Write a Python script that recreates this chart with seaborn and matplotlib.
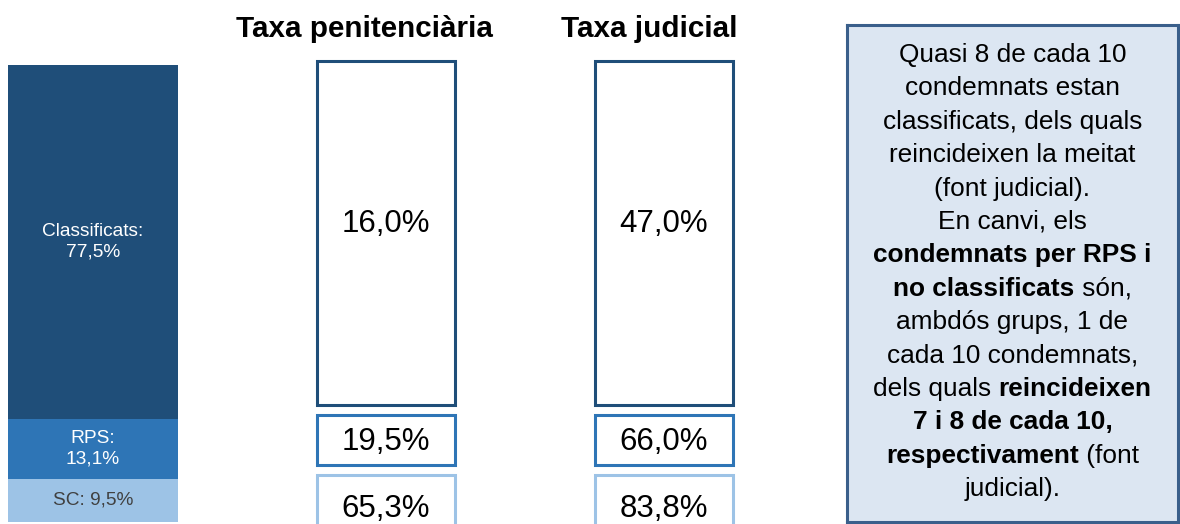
import numpy as np
import seaborn as sns
import matplotlib.pyplot as plt
from matplotlib.transforms import offset_copy

# data
groups = ["Classificats", "RPS", "SC"]
shares = [77.5, 13.1, 9.5]
taxa_penitenciaria = [16.0, 19.5, 65.3]
taxa_judicial = [47.0, 66.0, 83.8]
column_titles = ["Taxa penitenciària", "Taxa judicial"]
group_colors = ["#1f4e79", "#2e75b6", "#9dc3e6"]
label_colors = ["white", "white", "#404040"]
label_formats = ["{}:\n{}", "{}:\n{}", "{}: {}"]

# text of the note, (text, bold) pieces per line
note_lines = [
    [("Quasi 8 de cada 10", False)],
    [("condemnats estan", False)],
    [("classificats, dels quals", False)],
    [("reincideixen la meitat", False)],
    [("(font judicial).", False)],
    [("En canvi, els", False)],
    [("condemnats per RPS i", True)],
    [("no classificats", True), (" són,", False)],
    [("ambdós grups, 1 de", False)],
    [("cada 10 condemnats,", False)],
    [("dels quals ", False), ("reincideixen", True)],
    [("7 i 8 de cada 10,", True)],
    [("respectivament", True), (" (font", False)],
    [("judicial).", False)],
]


def pct(v):
    return f"{v:.1f}".replace(".", ",") + "%"


sns.set_theme(style="white")
plt.rcParams['font.family'] = ['Liberation Sans', 'DejaVu Sans']

W, H = 1180, 524
px_per_pct = 4.565
y_lo = -(H - 522) / px_per_pct
y_hi = 522 / px_per_pct

fig = plt.figure(figsize=(W / 100, H / 100), dpi=100)
ax = fig.add_axes([0, 0, 1, 1])
ax.set_xlim(0, W)
ax.set_ylim(y_lo, y_hi)
ax.axis("off")

# stacked share bar (drawn as overlapping cumulative bars)
shares_arr = np.array(shares)
tops = shares_arr[::-1].cumsum()[::-1]
bottoms = tops - shares_arr

ax_bar = fig.add_axes([8 / W, 0, 170 / W, 1])
for i in range(len(groups)):
    sns.barplot(x=["total"], y=[tops[i]], color=group_colors[i], width=1,
                saturation=1, linewidth=0, ax=ax_bar)
ax_bar.set_xlim(-0.5, 0.5)
ax_bar.set_ylim(y_lo, y_hi)
ax_bar.axis("off")
for i, g in enumerate(groups):
    ax_bar.text(0, (tops[i] + bottoms[i]) / 2, label_formats[i].format(g, pct(shares[i])),
                ha="center", va="center", color=label_colors[i], fontsize=13.8,
                linespacing=1.3)

# outlined boxes with the rates
box_bottoms = np.where(bottoms == 0, -3, bottoms + 3.0)
box_tops = tops + 0.8
value_shift = [2.0, -0.5, -2.4]  # vertical nudge of the value text inside each box
col_x = [386, 664]
title_x = [364, 649]
for c, rates in enumerate([taxa_penitenciaria, taxa_judicial]):
    ax.bar(np.full(len(groups), col_x[c]), box_tops - box_bottoms, bottom=box_bottoms,
           width=138, facecolor="white", edgecolor=group_colors, linewidth=2.2)
    for i, r in enumerate(rates):
        yc = (max(box_bottoms[i], 0) + box_tops[i]) / 2 + value_shift[i]
        ax.text(col_x[c], yc, pct(r), ha="center", va="center", fontsize=22.5, color="black")
    ax.text(title_x[c], (522 - 29) / px_per_pct, column_titles[c], ha="center", va="center",
            fontsize=21.3, fontweight="bold", color="black")

# note box
box_top, box_bottom = 25, 522
ax_note = fig.add_axes([847 / W, (H - box_bottom) / H, 331 / W, (box_bottom - box_top) / H])
ax_note.set_facecolor("#dce6f2")
ax_note.set_xticks([])
ax_note.set_yticks([])
for s in ax_note.spines.values():
    s.set_color("#3a5f8b")
    s.set_linewidth(2.2)

renderer = fig.canvas.get_renderer()
note_size = 18.9


def text_width(s, bold):
    weight = "bold" if bold else "normal"
    t1 = fig.text(0, 0, "X" + s + "X", fontsize=note_size, fontweight=weight)
    t2 = fig.text(0, 0, "XX", fontsize=note_size, fontweight=weight)
    w = t1.get_window_extent(renderer).width - t2.get_window_extent(renderer).width
    t1.remove()
    t2.remove()
    return w


for k, parts in enumerate(note_lines):
    p = 55 + k * 33.4
    yf = 1 - (p - box_top) / (box_bottom - box_top)
    widths = [text_width(s, b) for s, b in parts]
    x0 = -sum(widths) / 2
    for (s, b), w in zip(parts, widths):
        tr = offset_copy(ax_note.transAxes, fig=fig, x=x0, y=0, units="dots")
        ax_note.text(0.5, yf, s, transform=tr, ha="left", va="center",
                     fontsize=note_size, fontweight="bold" if b else "normal", color="black")
        x0 += w

fig.savefig("out.png", dpi=100)
